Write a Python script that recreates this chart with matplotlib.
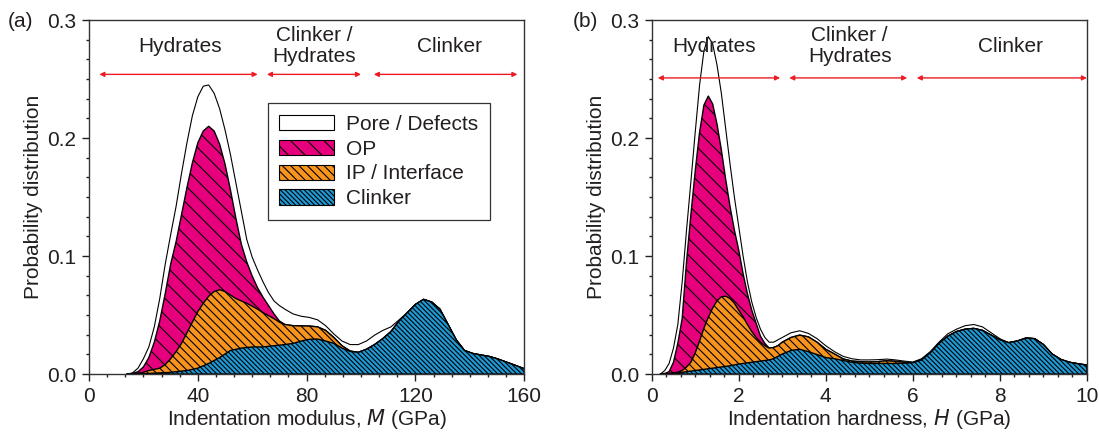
import numpy as np
import matplotlib.pyplot as plt
from matplotlib.patches import Patch
from matplotlib.ticker import MultipleLocator, AutoMinorLocator, FormatStrFormatter

plt.rcParams['font.family'] = ['Liberation Sans', 'DejaVu Sans']
plt.rcParams['hatch.linewidth'] = 0.8

TXT = '#231f20'
C_POR, C_OP, C_IP, C_CLK = 'white', '#e6007e', '#f7941d', '#1e9ad6'

# ---- panel (a): indentation modulus (GPa), stacked curve levels
mod_a = [14, 16, 18, 20, 22, 24, 26, 28, 30, 32, 34, 36, 38, 40, 42, 44, 46, 48, 50, 52,
         54, 56, 58, 60, 62, 64, 66, 68, 70, 72, 75, 78, 81, 84, 87, 90, 93, 96, 99, 102,
         105, 108, 111, 114, 117, 120, 123, 126, 129, 132, 135, 138, 141, 144, 147, 150,
         153, 156, 160]
clinker_a = [0, 0, 0.0001, 0.0003, 0.0005, 0.0008, 0.001, 0.0012, 0.0015, 0.002, 0.0025,
             0.003, 0.004, 0.005, 0.007, 0.009, 0.0115, 0.014, 0.017, 0.020, 0.021, 0.022,
             0.0225, 0.023, 0.023, 0.023, 0.0235, 0.024, 0.0245, 0.025, 0.026, 0.028, 0.0295,
             0.0297, 0.028, 0.026, 0.022, 0.0192, 0.0184, 0.021, 0.025, 0.030, 0.036, 0.045,
             0.052, 0.059, 0.0633, 0.061, 0.055, 0.042, 0.029, 0.020, 0.0175, 0.0162, 0.015,
             0.013, 0.0105, 0.008, 0.0045]
ip_top_a = [0, 0, 0.0005, 0.0015, 0.003, 0.004, 0.005, 0.008, 0.013, 0.019, 0.026, 0.035,
            0.044, 0.053, 0.060, 0.066, 0.070, 0.0715, 0.070, 0.067, 0.064, 0.062, 0.060,
            0.0575, 0.055, 0.052, 0.0495, 0.047, 0.044, 0.042, 0.041, 0.0408, 0.0407, 0.040,
            0.037, 0.031, 0.024, 0.0195, 0.0184, 0.021, 0.025, 0.030, 0.036, 0.045, 0.052,
            0.059, 0.0633, 0.061, 0.055, 0.042, 0.029, 0.020, 0.0175, 0.0162, 0.015, 0.013,
            0.0105, 0.008, 0.0045]
op_top_a = [0, 0.0005, 0.002, 0.006, 0.014, 0.027, 0.045, 0.068, 0.093, 0.112, 0.135, 0.158,
            0.179, 0.196, 0.206, 0.210, 0.206, 0.195, 0.178, 0.156, 0.132, 0.110, 0.095,
            0.083, 0.073, 0.065, 0.058, 0.051, 0.045, 0.042, 0.041, 0.0408, 0.0407, 0.040,
            0.037, 0.031, 0.024, 0.0195, 0.0184, 0.021, 0.025, 0.030, 0.036, 0.045, 0.052,
            0.059, 0.0633, 0.061, 0.055, 0.042, 0.029, 0.020, 0.0175, 0.0162, 0.015, 0.013,
            0.0105, 0.008, 0.0045]
total_a = [0, 0.001, 0.005, 0.013, 0.023, 0.040, 0.064, 0.093, 0.118, 0.142, 0.170, 0.196,
           0.219, 0.235, 0.244, 0.245, 0.238, 0.225, 0.207, 0.186, 0.162, 0.138, 0.114,
           0.099, 0.088, 0.078, 0.069, 0.062, 0.058, 0.055, 0.051, 0.049, 0.048, 0.046,
           0.041, 0.034, 0.028, 0.025, 0.025, 0.028, 0.033, 0.037, 0.040, 0.046, 0.052,
           0.059, 0.0633, 0.061, 0.055, 0.042, 0.029, 0.020, 0.0175, 0.0162, 0.015, 0.013,
           0.0105, 0.008, 0.0045]

# ---- panel (b): indentation hardness (GPa)
hard_b = [0.2, 0.3, 0.4, 0.5, 0.6, 0.7, 0.8, 0.9, 1.0, 1.1, 1.2, 1.3, 1.4, 1.5, 1.6, 1.7,
          1.8, 1.9, 2.0, 2.1, 2.2, 2.3, 2.4, 2.5, 2.6, 2.7, 2.8, 2.9, 3.0, 3.2, 3.4, 3.6,
          3.8, 4.0, 4.2, 4.4, 4.6, 4.8, 5.0, 5.2, 5.4, 5.6, 5.8, 6.0, 6.2, 6.4, 6.6, 6.8,
          7.0, 7.2, 7.4, 7.6, 7.8, 8.0, 8.2, 8.4, 8.6, 8.8, 9.0, 9.2, 9.4, 9.6, 9.8, 10.0]
clinker_b = [0, 0, 0, 0.0005, 0.001, 0.0015, 0.002, 0.0025, 0.003, 0.0035, 0.004, 0.0045,
             0.005, 0.0055, 0.006, 0.0065, 0.007, 0.0078, 0.0085, 0.009, 0.0095, 0.010,
             0.0105, 0.011, 0.0115, 0.012, 0.013, 0.015, 0.017, 0.020, 0.021, 0.019, 0.0165,
             0.014, 0.013, 0.0115, 0.010, 0.0093, 0.009, 0.009, 0.009, 0.009, 0.0092, 0.0096,
             0.012, 0.018, 0.026, 0.032, 0.036, 0.038, 0.0387, 0.037, 0.033, 0.029, 0.0266,
             0.028, 0.0305, 0.030, 0.025, 0.017, 0.0124, 0.010, 0.0087, 0.0076]
ip_top_b = [0, 0, 0.0005, 0.001, 0.0017, 0.003, 0.006, 0.010, 0.018, 0.028, 0.039, 0.048,
            0.056, 0.062, 0.0655, 0.066, 0.064, 0.060, 0.054, 0.0486, 0.042, 0.036, 0.031,
            0.027, 0.024, 0.022, 0.0225, 0.024, 0.027, 0.031, 0.033, 0.0315, 0.027, 0.021,
            0.017, 0.0128, 0.011, 0.0105, 0.0102, 0.0105, 0.0113, 0.0108, 0.010, 0.0096,
            0.012, 0.018, 0.026, 0.032, 0.036, 0.038, 0.0387, 0.037, 0.033, 0.029, 0.0266,
            0.028, 0.0305, 0.030, 0.025, 0.017, 0.0124, 0.010, 0.0087, 0.0076]
op_top_b = [0, 0.0005, 0.002, 0.010, 0.026, 0.047, 0.095, 0.135, 0.172, 0.205, 0.228, 0.2356,
            0.229, 0.212, 0.190, 0.165, 0.142, 0.122, 0.105, 0.085, 0.068, 0.054, 0.043,
            0.032, 0.026, 0.022, 0.0225, 0.024, 0.027, 0.031, 0.033, 0.0315, 0.027, 0.021,
            0.017, 0.0128, 0.011, 0.0105, 0.0102, 0.0105, 0.0113, 0.0108, 0.010, 0.0096,
            0.012, 0.018, 0.026, 0.032, 0.036, 0.038, 0.0387, 0.037, 0.033, 0.029, 0.0266,
            0.028, 0.0305, 0.030, 0.025, 0.017, 0.0124, 0.010, 0.0087, 0.0076]
total_b = [0, 0.003, 0.009, 0.022, 0.042, 0.078, 0.122, 0.163, 0.205, 0.245, 0.274, 0.286,
           0.280, 0.262, 0.238, 0.208, 0.178, 0.150, 0.125, 0.100, 0.078, 0.061, 0.048,
           0.038, 0.031, 0.027, 0.027, 0.029, 0.031, 0.035, 0.0367, 0.0345, 0.030, 0.024,
           0.019, 0.015, 0.013, 0.012, 0.012, 0.0122, 0.0127, 0.012, 0.011, 0.0102,
           0.013, 0.019, 0.027, 0.034, 0.038, 0.041, 0.042, 0.040, 0.035, 0.030, 0.0266,
           0.028, 0.0305, 0.030, 0.025, 0.017, 0.0124, 0.010, 0.0087, 0.0076]

# region annotations: (label, x centre, arrow start, arrow end)
regions_a = [("Hydrates", 33.6, 3.8, 62.0),
             ("Clinker /\nHydrates", 82.8, 65.4, 100.0),
             ("Clinker", 132.4, 104.7, 157.5)]
regions_b = [("Hydrates", 1.43, 0.14, 2.95),
             ("Clinker /\nHydrates", 4.55, 3.16, 5.87),
             ("Clinker", 8.24, 6.09, 10.0)]

legend_names = ["Pore / Defects", "OP", "IP / Interface", "Clinker"]
hatches = ['', '\\' * 2, '\\' * 4, '\\' * 7]
colors = [C_POR, C_OP, C_IP, C_CLK]

fig = plt.figure(figsize=(10.99, 4.37), dpi=100)
ax_a = fig.add_axes([0.081, 0.144, 0.396, 0.810])
ax_b = fig.add_axes([0.593, 0.144, 0.396, 0.810])


def draw_panel(ax, x, levels, regions, arrow_y, xmax, xmajor, xlabel):
    # levels go from top (total) to bottom (clinker); each fill covers the one before
    for lev, col, h in zip(levels, colors, hatches):
        ax.fill_between(x, 0, lev, facecolor=col, edgecolor='k', hatch=h,
                        linewidth=1.0 if h else 0.8, zorder=2)
    for name, xc, x0, x1 in regions:
        ax.text(xc, 0.278, name, ha='center', va='center', fontsize=15,
                color=TXT, linespacing=1.15, zorder=4)
        ax.annotate('', xy=(x1, arrow_y), xytext=(x0, arrow_y),
                    arrowprops=dict(arrowstyle='<|-|>', color='#ed1c24', lw=1.0,
                                    mutation_scale=7, shrinkA=0, shrinkB=0),
                    annotation_clip=False, zorder=4)
    ax.set_xlim(0, xmax)
    ax.set_ylim(0, 0.3)
    ax.xaxis.set_major_locator(MultipleLocator(xmajor))
    ax.xaxis.set_minor_locator(AutoMinorLocator(6))
    ax.yaxis.set_major_locator(MultipleLocator(0.1))
    ax.yaxis.set_minor_locator(AutoMinorLocator(6))
    ax.yaxis.set_major_formatter(FormatStrFormatter('%.1f'))
    ax.tick_params(which='major', direction='out', length=5, width=1, labelsize=15,
                   colors=TXT, pad=4)
    ax.tick_params(which='minor', direction='out', length=2.5, width=1, colors=TXT)
    for s in ax.spines.values():
        s.set_color('#333333')
        s.set_linewidth(1)
        s.set_zorder(5)
    ax.set_xlabel(xlabel, fontsize=15, color=TXT, labelpad=1)
    ax.set_ylabel("Probability distribution", fontsize=15, color=TXT, labelpad=3)


draw_panel(ax_a, mod_a, [total_a, op_top_a, ip_top_a, clinker_a], regions_a, 0.254,
           160, 40, "Indentation modulus, $\\mathit{M}$ (GPa)")
draw_panel(ax_b, hard_b, [total_b, op_top_b, ip_top_b, clinker_b], regions_b, 0.251,
           10, 2, "Indentation hardness, $\\mathit{H}$ (GPa)")

handles = [Patch(facecolor=c, edgecolor='k', hatch=h, linewidth=0.8)
           for c, h in zip(colors, hatches)]
leg = ax_a.legend(handles, legend_names, loc='upper left', bbox_to_anchor=(0.411, 0.765),
                  fontsize=15, frameon=True, fancybox=False, edgecolor='k',
                  handlelength=2.6, handleheight=0.75, labelspacing=0.28,
                  handletextpad=0.6, borderpad=0.55, borderaxespad=0)
leg.get_frame().set_linewidth(0.9)
for t in leg.get_texts():
    t.set_color(TXT)

fig.text(0.007, 0.951, "(a)", fontsize=15, color=TXT, va='center')
fig.text(0.521, 0.951, "(b)", fontsize=15, color=TXT, va='center')

fig.savefig("out.png", dpi=100)
